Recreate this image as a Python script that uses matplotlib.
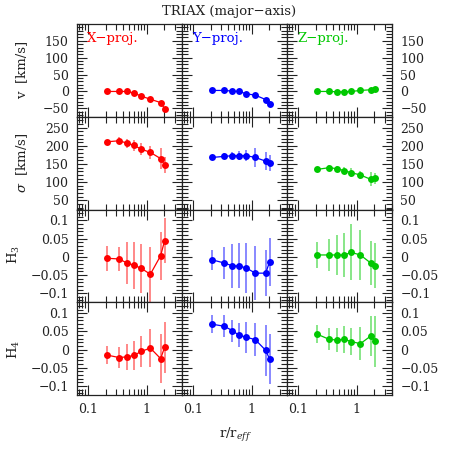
import numpy as np
import matplotlib
matplotlib.use("Agg")
import matplotlib.pyplot as plt
from matplotlib.ticker import FixedLocator, MultipleLocator, LogLocator, NullFormatter

# radii (r / r_eff), same bins for every projection
radius = [0.207, 0.34, 0.471, 0.609, 0.813, 1.155, 1.73, 2.02]

projections = ["X\u2212proj.", "Y\u2212proj.", "Z\u2212proj."]
proj_colors = ["#ff0000", "#0000ff", "#00c800"]

v_x = [0, 0, 0, -5, -14, -23, -33, -51]
v_y = [3, 3, 1, 0, -7, -11, -24, -38]
v_z = [0, 0, -1, -1, 0, 3, 5, 8]
v_err = [2, 2, 2, 2, 2, 2, 3, 3]

sig_x = [211, 214, 207, 201, 191, 182, 165, 147]
sig_x_err = [6, 10, 12, 14, 16, 18, 30, 22]
sig_y = [168, 171, 173, 173, 173, 168, 158, 152]
sig_y_err = [5, 8, 10, 12, 15, 25, 25, 22]
sig_z = [135, 140, 137, 132, 126, 120, 108, 111]
sig_z_err = [5, 8, 8, 10, 12, 12, 19, 15]

h3_x = [-0.004, -0.006, -0.018, -0.023, -0.032, -0.048, 0.003, 0.044]
h3_x_err = [0.035, 0.032, 0.058, 0.065, 0.068, 0.075, 0.066, 0.062]
h3_y = [-0.008, -0.017, -0.025, -0.025, -0.031, -0.045, -0.045, -0.014]
h3_y_err = [0.027, 0.043, 0.06, 0.062, 0.068, 0.075, 0.064, 0.065]
h3_z = [0.005, 0.005, 0.005, 0.005, 0.012, 0.005, -0.017, -0.024]
h3_z_err = [0.035, 0.045, 0.055, 0.06, 0.077, 0.07, 0.06, 0.063]

h4_x = [-0.015, -0.022, -0.02, -0.016, -0.005, 0.004, -0.025, 0.006]
h4_x_err = [0.024, 0.03, 0.035, 0.04, 0.043, 0.052, 0.067, 0.07]
h4_y = [0.070, 0.064, 0.052, 0.039, 0.034, 0.027, -0.002, -0.026]
h4_y_err = [0.025, 0.03, 0.03, 0.033, 0.043, 0.045, 0.07, 0.07]
h4_z = [0.043, 0.028, 0.026, 0.028, 0.022, 0.016, 0.037, 0.023]
h4_z_err = [0.025, 0.03, 0.033, 0.038, 0.038, 0.045, 0.055, 0.07]

rows = [
    ([v_x, v_y, v_z], [v_err, v_err, v_err]),
    ([sig_x, sig_y, sig_z], [sig_x_err, sig_y_err, sig_z_err]),
    ([h3_x, h3_y, h3_z], [h3_x_err, h3_y_err, h3_z_err]),
    ([h4_x, h4_y, h4_z], [h4_x_err, h4_y_err, h4_z_err]),
]
row_ylim = [(-75, 200), (25, 280), (-0.125, 0.13), (-0.125, 0.13)]
row_major = [[-50, 0, 50, 100, 150], [50, 100, 150, 200, 250],
             [-0.1, -0.05, 0, 0.05, 0.1], [-0.1, -0.05, 0, 0.05, 0.1]]
row_minor = [10, 10, 0.01, 0.01]
row_labels = ["v  [km/s]", "$\\sigma$  [km/s]", "H$_3$", "H$_4$"]

plt.rcParams["font.family"] = ["DejaVu Serif"]
plt.rcParams["mathtext.fontset"] = "dejavuserif"
ink = "#222222"

fig, axes = plt.subplots(4, 3, figsize=(4.58, 4.58), dpi=100, sharex=True)
fig.subplots_adjust(left=77 / 458, right=392 / 458, top=1 - 24 / 458,
                    bottom=1 - 395 / 458, wspace=0, hspace=0)


def fmt(v):
    s = "%g" % v
    return s.replace("-", "\u2212")


for i, (vals, errs) in enumerate(rows):
    for j in range(3):
        ax = axes[i, j]
        c = proj_colors[j]
        ax.errorbar(radius, vals[j], yerr=errs[j], fmt="none", ecolor=c,
                    alpha=0.5, elinewidth=1.3, capsize=0, zorder=2)
        ax.plot(radius, vals[j], "-o", color=c, lw=0.9, ms=5, mew=0, zorder=3)
        ax.set_xscale("log")
        ax.set_xlim(0.065, 4.0)
        ax.set_ylim(*row_ylim[i])
        ax.yaxis.set_major_locator(FixedLocator(row_major[i]))
        ax.yaxis.set_minor_locator(MultipleLocator(row_minor[i]))
        ax.xaxis.set_major_locator(FixedLocator([0.1, 1]))
        ax.xaxis.set_minor_locator(LogLocator(base=10, subs=np.arange(2, 10)))
        ax.xaxis.set_minor_formatter(NullFormatter())
        ax.tick_params(which="both", direction="in", top=True, right=True,
                       colors=ink, labelsize=9, pad=6, width=0.8)
        ax.tick_params(which="major", length=7)
        ax.tick_params(which="minor", length=4)
        for sp in ax.spines.values():
            sp.set_color(ink)
            sp.set_linewidth(0.9)
        ax.set_yticklabels([fmt(t) for t in row_major[i]])
        if j == 0:
            ax.tick_params(labelleft=True, labelright=False)
        elif j == 2:
            ax.tick_params(labelleft=False, labelright=True)
        else:
            ax.tick_params(labelleft=False, labelright=False)
        if i == 3:
            ax.set_xticklabels(["0.1", "1"])
        if i == 0:
            ax.text(0.095, 0.845, projections[j], color=c, fontsize=9.5,
                    transform=ax.transAxes, ha="left", va="center")

# row labels
label_x = [22, 22, 14, 14]
label_y = [70, 163, 255, 349]
for lab, lx, ly in zip(row_labels, label_x, label_y):
    fig.text(lx / 458, 1 - ly / 458, lab, rotation=90, ha="center",
             va="center", fontsize=9.5, color=ink)

fig.text(235 / 458, 1 - 435 / 458, "r/r$_{eff}$", ha="center",
         va="center", fontsize=9.5, color=ink)
fig.text(0.5, 1 - 11 / 458, "TRIAX (major\u2212axis)", ha="center",
         va="center", fontsize=9.5, color=ink)

fig.savefig("out.png", dpi=100)
